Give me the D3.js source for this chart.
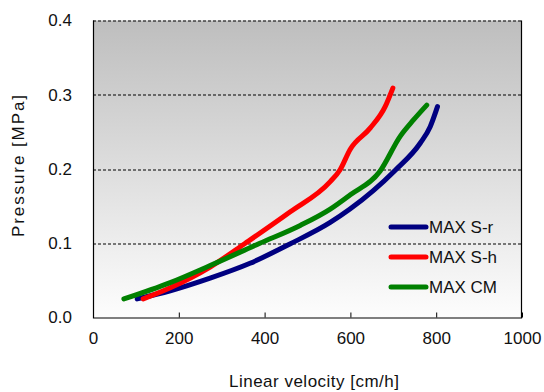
<!DOCTYPE html>
<style>
body { margin: 0; background-color: #FFFFFF; }
text { font-family: "Liberation Sans", Arial, sans-serif; fill: #111; }
</style>
<svg width="544" height="392"></svg>
<script src="https://d3js.org/d3.v7.min.js"></script>
<script>

// data
var seriesNames = ["MAX S-r", "MAX S-h", "MAX CM"];
var seriesColors = ["#000080", "#ff0000", "#008000"];

var srVelocity = [103, 180, 273, 366, 459, 553, 599, 704, 763, 786, 803];
var srPressure = [0.025, 0.036, 0.053, 0.073, 0.099, 0.128, 0.146, 0.198, 0.235, 0.257, 0.284];

var shVelocity = [117, 180, 273, 355, 459, 553, 576, 599, 646, 681, 699];
var shPressure = [0.025, 0.040, 0.068, 0.100, 0.142, 0.183, 0.199, 0.226, 0.255, 0.284, 0.309];

var cmVelocity = [72, 180, 273, 389, 483, 553, 599, 669, 716, 747, 778];
var cmPressure = [0.025, 0.047, 0.070, 0.100, 0.124, 0.146, 0.165, 0.197, 0.244, 0.266, 0.286];

var xTicks = [0, 200, 400, 600, 800, 1000];
var yTicks = [0.0, 0.1, 0.2, 0.3, 0.4];

var svg = d3.select("svg"),
    margin = {top: 20.5, right: 22, bottom: 74.5, left: 93},
    width = +svg.attr("width") - margin.left - margin.right,
    height = +svg.attr("height") - margin.top - margin.bottom,
    g = svg.append("g").attr("transform", "translate(" + margin.left + "," + margin.top + ")");

var x = d3.scaleLinear().domain([0, 1000]).range([0, width]);
var y = d3.scaleLinear().domain([0, 0.4]).range([height, 0]);

var grad = svg.append("defs").append("linearGradient")
    .attr("id", "bg").attr("x1", 0).attr("y1", 0).attr("x2", 0).attr("y2", 1);
grad.append("stop").attr("offset", "0%").attr("stop-color", "#bebebe");
grad.append("stop").attr("offset", "100%").attr("stop-color", "#fdfdfd");

g.append("rect")
    .attr("width", width)
    .attr("height", height)
    .attr("fill", "url(#bg)");

// dashed grid lines
g.append("g").selectAll("line")
  .data(yTicks.slice(1))
  .enter().append("line")
    .attr("x1", 0).attr("x2", width)
    .attr("y1", function(d) { return Math.round(y(d)) + 0.5; })
    .attr("y2", function(d) { return Math.round(y(d)) + 0.5; })
    .attr("stroke", "#000")
    .attr("stroke-dasharray", "3,2");

// frame: left, right, bottom
g.append("path")
    .attr("d", "M0.5,0V" + (height + 0.5) + "H" + (width - 0.5) + "V0")
    .attr("fill", "none")
    .attr("stroke", "#000")
    .attr("stroke-width", 1.2);

var xAxis = g.append("g")
    .attr("transform", "translate(0," + height + ")")
    .call(d3.axisBottom(x).tickValues(xTicks).tickFormat(d3.format("d"))
      .tickSizeInner(-5).tickSizeOuter(0).tickPadding(14));
xAxis.select(".domain").remove();
xAxis.selectAll("text").style("font-size", "17px").attr("fill", "#111");

var yAxis = g.append("g")
    .call(d3.axisLeft(y).tickValues(yTicks).tickSize(0).tickPadding(21).tickFormat(d3.format(".1f")));
yAxis.select(".domain").remove();
yAxis.selectAll("text").style("font-size", "17px").attr("fill", "#111");

var series = [
  {v: srVelocity, p: srPressure},
  {v: shVelocity, p: shPressure},
  {v: cmVelocity, p: cmPressure}
];

var line = d3.line()
    .x(function(d) { return x(d[0]); })
    .y(function(d) { return y(d[1]); })
    .curve(d3.curveMonotoneX);

series.forEach(function(s, i) {
  var pts = s.v.map(function(v, j) { return [v, s.p[j]]; });
  g.append("path")
      .datum(pts)
      .attr("fill", "none")
      .attr("stroke", seriesColors[i])
      .attr("stroke-width", 5)
      .attr("stroke-linecap", "round")
      .attr("stroke-linejoin", "round")
      .attr("d", line);
});

// legend
var legend = svg.append("g")
  .selectAll("g")
  .data(seriesNames)
  .enter().append("g")
    .attr("transform", function(d, i) { return "translate(0," + (227 + i * 30) + ")"; });

legend.append("line")
    .attr("x1", 391).attr("x2", 426)
    .attr("stroke", function(d, i) { return seriesColors[i]; })
    .attr("stroke-width", 5)
    .attr("stroke-linecap", "round");

legend.append("text")
    .attr("x", 429)
    .attr("dy", "0.35em")
    .style("font-size", "17px")
    .text(function(d) { return d; });

// axis titles
svg.append("text")
    .attr("x", 314)
    .attr("y", 381)
    .attr("dy", "0.35em")
    .attr("text-anchor", "middle")
    .style("font-size", "17px")
    .attr("textLength", 170)
    .text("Linear velocity [cm/h]");

svg.append("text")
    .attr("transform", "translate(18,166) rotate(-90)")
    .attr("dy", "0.35em")
    .attr("text-anchor", "middle")
    .style("font-size", "17px")
    .attr("textLength", 142)
    .text("Pressure [MPa]");

</script>
